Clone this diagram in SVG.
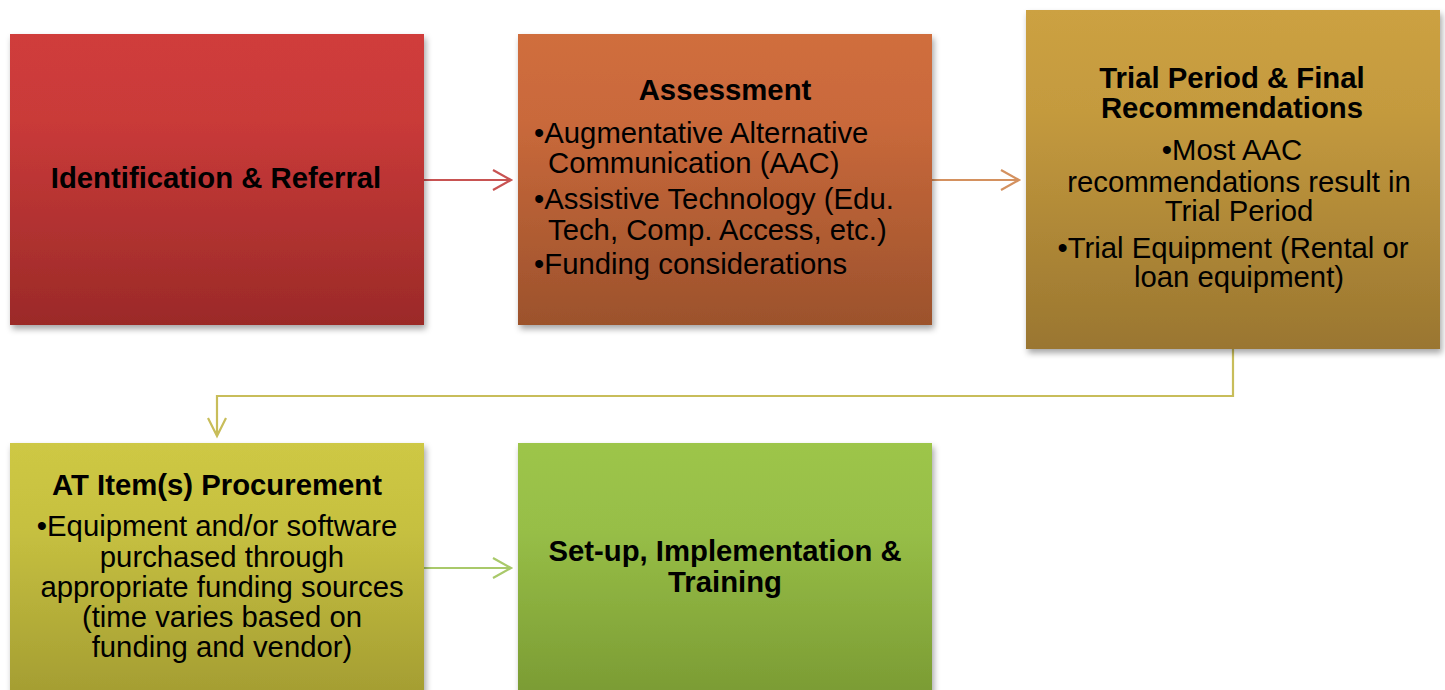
<svg xmlns="http://www.w3.org/2000/svg" width="1445" height="690" viewBox="0 0 1445 690">
<style>
text{font-family:"Liberation Sans",Arial,sans-serif;font-size:29.3px;fill:#000}
.t{font-weight:bold}
.c{text-anchor:middle}
.box{filter:url(#sh)}
.ln{fill:none;stroke-width:2.2}
</style>
<defs>
<filter id="sh" x="-10%" y="-10%" width="125%" height="125%">
<feDropShadow dx="2" dy="4" stdDeviation="3" flood-color="#000" flood-opacity="0.35"/>
</filter>
<linearGradient id="g1" x1="0" y1="0" x2="0" y2="1"><stop offset="0" stop-color="#d03c3b"/><stop offset="0.3" stop-color="#c93a39"/><stop offset="1" stop-color="#9b2a28"/></linearGradient>
<linearGradient id="g2" x1="0" y1="0" x2="0" y2="1"><stop offset="0" stop-color="#d06e3e"/><stop offset="0.3" stop-color="#c9693b"/><stop offset="1" stop-color="#9c522c"/></linearGradient>
<linearGradient id="g3" x1="0" y1="0" x2="0" y2="1"><stop offset="0" stop-color="#cca142"/><stop offset="0.3" stop-color="#c49a3e"/><stop offset="1" stop-color="#9a7630"/></linearGradient>
<linearGradient id="g4" x1="0" y1="0" x2="0" y2="1"><stop offset="0" stop-color="#cec844"/><stop offset="0.3" stop-color="#c6c040"/><stop offset="1" stop-color="#9c952f"/></linearGradient>
<linearGradient id="g5" x1="0" y1="0" x2="0" y2="1"><stop offset="0" stop-color="#9dc54a"/><stop offset="0.3" stop-color="#97be47"/><stop offset="1" stop-color="#74932f"/></linearGradient>
</defs>
<g id="connectors">
<path class="ln" stroke="#c85352" d="M424 180H510M493 170L511 180L493 190"/>
<path class="ln" stroke="#d4915f" d="M932 180H1018M1001 170L1019 180L1001 190"/>
<path class="ln" stroke="#c8bd5a" d="M1233 349V396H217V435M208 418L217 436L226 418"/>
<path class="ln" stroke="#a9c96a" d="M424 568H510M493 558L511 568L493 578"/>
</g>
<g id="n1">
<rect class="box" x="10" y="34" width="414" height="291" fill="url(#g1)"/>
<text class="t c" x="216" y="188">Identification &amp; Referral</text>
</g>
<g id="n2">
<rect class="box" x="518" y="34" width="414" height="291" fill="url(#g2)"/>
<text class="t c" x="725" y="100">Assessment</text>
<text x="534" y="143">•Augmentative Alternative</text>
<text x="548" y="173">Communication (AAC)</text>
<text x="534" y="209">•Assistive Technology (Edu.</text>
<text x="548" y="240">Tech, Comp. Access, etc.)</text>
<text x="534" y="274">•Funding considerations</text>
</g>
<g id="n3">
<rect class="box" x="1026" y="10" width="414" height="339" fill="url(#g3)"/>
<text class="t c" x="1232" y="88">Trial Period &amp; Final</text>
<text class="t c" x="1232" y="118">Recommendations</text>
<text class="c" x="1232" y="160">•Most AAC</text>
<text class="c" x="1239" y="192">recommendations result in</text>
<text class="c" x="1239" y="221">Trial Period</text>
<text class="c" x="1233" y="258">•Trial Equipment (Rental or</text>
<text class="c" x="1239" y="287">loan equipment)</text>
</g>
<g id="n4">
<rect class="box" x="10" y="443" width="414" height="291" fill="url(#g4)"/>
<text class="t c" x="217" y="495">AT Item(s) Procurement</text>
<text class="c" x="217" y="536">•Equipment and/or software</text>
<text class="c" x="222" y="567">purchased through</text>
<text class="c" x="222" y="597">appropriate funding sources</text>
<text class="c" x="222" y="627">(time varies based on</text>
<text class="c" x="222" y="657">funding and vendor)</text>
</g>
<g id="n5">
<rect class="box" x="518" y="443" width="414" height="291" fill="url(#g5)"/>
<text class="t c" x="725" y="561">Set-up, Implementation &amp;</text>
<text class="t c" x="725" y="592">Training</text>
</g>
</svg>
